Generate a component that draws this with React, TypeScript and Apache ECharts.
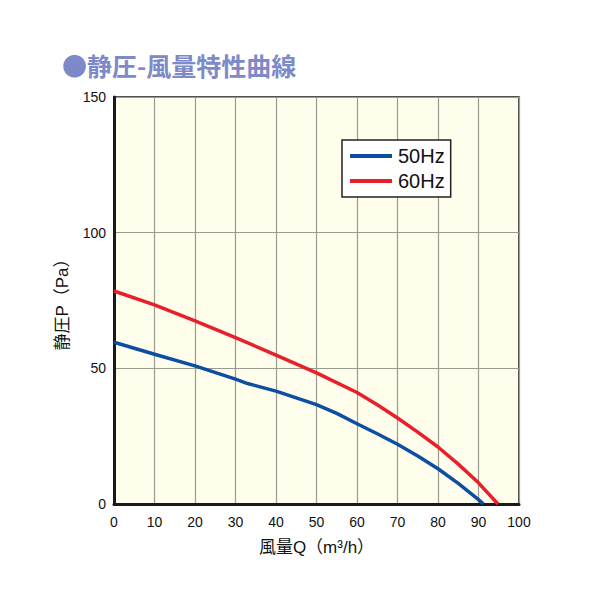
import React, { useEffect, useRef } from "react";
import * as echarts from "echarts";

const flowQ50 = [0, 10, 20, 30, 33, 40, 50, 55, 60, 65, 70, 75, 80, 85, 90, 91.2];
const press50 = [59.6, 55.2, 50.9, 46.0, 44.4, 41.6, 36.6, 33.4, 29.6, 25.9, 22.0, 17.7, 13.0, 7.6, 1.6, 0];
const flowQ60 = [0, 10, 20, 30, 40, 50, 60, 65, 70, 75, 80, 85, 90, 94.8];
const press60 = [78.5, 73.4, 67.5, 61.3, 54.9, 48.3, 41.1, 36.6, 31.7, 26.5, 21.0, 14.7, 7.8, 0];
const seriesNames = ["50Hz", "60Hz"];
const colors = ["#0b4ea2", "#e8202a"];

const titleText = "●静圧-風量特性曲線";
const xName = "風量Q（m³/h）";
const yName = "静圧P（Pa）";

export default function App() {
  const ref = useRef<HTMLDivElement>(null);
  useEffect(() => {
    const chart = echarts.init(ref.current!, null, { renderer: "svg" });
    const sans = "'Liberation Sans', Arial, 'Noto Sans CJK JP', sans-serif";
    chart.setOption({
      animation: false,
      backgroundColor: "#ffffff",
      title: {
        text: titleText,
        left: 57,
        top: 47,
        textStyle: {
          color: "#7d89c9",
          fontSize: 25,
          fontWeight: "bold",
          fontFamily: "'Noto Sans CJK JP', sans-serif",
        },
      },
      legend: {
        orient: "vertical",
        left: 342,
        top: 140,
        padding: [6, 6, 6, 8],
        itemGap: 5,
        itemWidth: 42,
        itemHeight: 4,
        icon: "rect",
        backgroundColor: "#ffffff",
        borderColor: "#222",
        borderWidth: 1.5,
        borderRadius: 0,
        data: seriesNames,
        textStyle: { fontSize: 20, color: "#111", fontFamily: sans, padding: [0, 0, 0, 1] },
      },
      grid: {
        left: 114,
        right: 81,
        top: 97,
        bottom: 96,
        show: true,
        backgroundColor: "#fffdeb",
        borderColor: "#1a1a1a",
        borderWidth: 1.5,
      },
      xAxis: {
        type: "value",
        min: 0,
        max: 100,
        interval: 10,
        name: xName,
        nameLocation: "middle",
        nameGap: 35,
        nameTextStyle: { fontSize: 17, color: "#111", fontFamily: sans },
        axisLine: { show: true, lineStyle: { color: "#1a1a1a", width: 3 } },
        axisTick: { show: false },
        axisLabel: { fontSize: 14, color: "#111", fontFamily: sans, margin: 11 },
        splitLine: { show: true, lineStyle: { color: "#9a9a8e", width: 1.2 } },
      },
      yAxis: {
        type: "value",
        min: 0,
        max: 150,
        interval: 50,
        name: yName,
        nameLocation: "middle",
        nameGap: 43,
        nameTextStyle: { fontSize: 17, color: "#111", fontFamily: sans },
        axisLine: { show: true, lineStyle: { color: "#1a1a1a", width: 3 } },
        axisTick: { show: false },
        axisLabel: { fontSize: 14, color: "#111", fontFamily: sans, margin: 8 },
        splitLine: { show: true, lineStyle: { color: "#9a9a8e", width: 1.2 } },
      },
      series: [
        {
          name: seriesNames[0],
          type: "line",
          data: flowQ50.map((q, i) => [q, press50[i]]),
          showSymbol: false,
          smooth: false,
          lineStyle: { color: colors[0], width: 3.5, join: "round" },
          itemStyle: { color: colors[0] },
          z: 3,
        },
        {
          name: seriesNames[1],
          type: "line",
          data: flowQ60.map((q, i) => [q, press60[i]]),
          showSymbol: false,
          smooth: false,
          lineStyle: { color: colors[1], width: 3.5, join: "round" },
          itemStyle: { color: colors[1] },
          z: 3,
        },
      ],
    });
    return () => chart.dispose();
  }, []);
  return (
    <div
      ref={ref}
      style={{ position: "absolute", left: 0, top: 0, width: 600, height: 600 }}
    />
  );
}
